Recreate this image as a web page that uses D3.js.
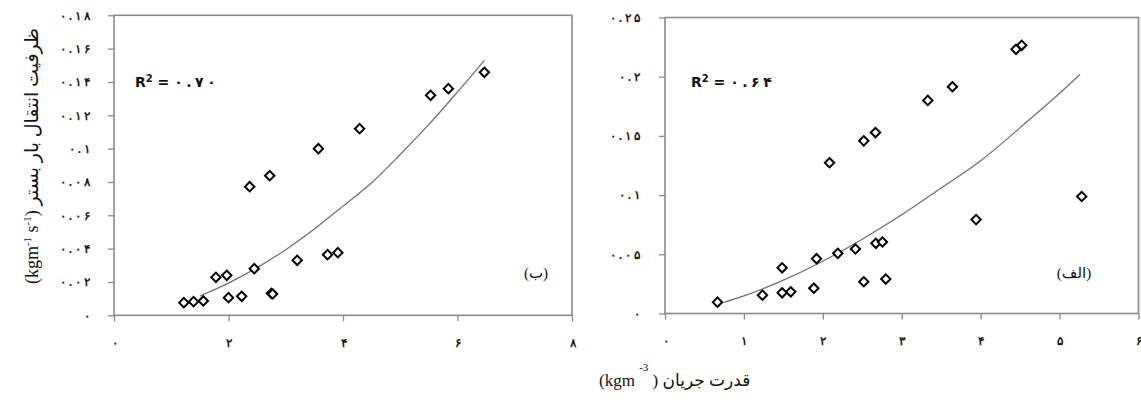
<!DOCTYPE html>
<html>
<head>
<meta charset="utf-8">
<script src="https://cdn.jsdelivr.net/npm/d3@7"></script>
<style>
body { margin: 0; background: #fff; }
</style>
</head>
<body>
<div id="chart"></div>
<script>
// panel (ب) - left
const powerB = [1.22, 1.39, 1.56, 1.78, 1.97, 2.0, 2.23, 2.45, 2.37, 2.72, 2.75, 2.77, 3.2, 3.57, 3.73, 3.91, 4.29, 5.53, 5.84, 6.47];
const loadB = [0.0076, 0.0082, 0.0086, 0.0228, 0.024, 0.0106, 0.0114, 0.028, 0.0772, 0.0838, 0.0132, 0.0128, 0.033, 0.100, 0.0364, 0.0376, 0.112, 0.132, 0.136, 0.1458];
const trendBx = [1.5, 2, 2.5, 3, 3.5, 4, 4.5, 5, 5.5, 6, 6.47];
const trendBy = [0.0116, 0.0193, 0.0286, 0.0394, 0.0518, 0.0655, 0.0795, 0.0965, 0.1145, 0.134, 0.153];
const xTicksB = [0, 2, 4, 6, 8];
const yTicksB = [0, 0.02, 0.04, 0.06, 0.08, 0.1, 0.12, 0.14, 0.16, 0.18];

// panel (الف) - right
const powerA = [0.665, 1.235, 1.484, 1.484, 1.594, 1.886, 1.92, 2.085, 2.19, 2.413, 2.519, 2.519, 2.667, 2.672, 2.755, 2.798, 3.33, 3.642, 3.942, 4.448, 4.52, 5.28];
const loadA = [0.0096, 0.0155, 0.0386, 0.0175, 0.0183, 0.0214, 0.0463, 0.1274, 0.0508, 0.0545, 0.1458, 0.0268, 0.1528, 0.0593, 0.0604, 0.0291, 0.180, 0.1915, 0.0793, 0.2231, 0.2265, 0.0988];
const trendAx = [0.74, 1, 1.5, 2, 2.5, 3, 3.5, 4, 4.5, 5, 5.26];
const trendAy = [0.0093, 0.0149, 0.0282, 0.0442, 0.0628, 0.0834, 0.106, 0.129, 0.157, 0.186, 0.2019];
const xTicksA = [0, 1, 2, 3, 4, 5, 6];
const yTicksA = [0, 0.05, 0.1, 0.15, 0.2, 0.25];

const panelNames = ["(ب)", "(الف)"];
const r2Values = ["0.70", "0.64"];
const yTitleFa = "ظرفیت انتقال بار بستر";
const xTitleFa = "قدرت جریان";

const width = 1141;
const height = 414;

const faDigits = "۰۱۲۳۴۵۶۷۸۹";
function toFa(s) {
    return String(s).replace(/\d/g, d => faDigits[d]);
}
// the original spaces its digits out widely
function spaced(s) {
    return s.split("").join("\u2005");
}
const fmt = d3.format(".2~f");

const svg = d3.select("#chart").append("svg")
    .attr("width", width)
    .attr("height", height)
    .style("font-family", "'DejaVu Sans', sans-serif");

function drawPanel(p) {
    const x = d3.scaleLinear().domain(p.xDomain).range(p.xRange);
    const y = d3.scaleLinear().domain(p.yDomain).range(p.yRange);

    const g = svg.append("g");

    // y axis ticks + labels
    const yAxis = g.append("g")
        .attr("transform", `translate(${p.xRange[0]},0)`)
        .call(d3.axisLeft(y).tickValues(p.yTicks).tickSize(6).tickSizeOuter(0)
            .tickPadding(p.yPad).tickFormat(d => spaced(toFa(fmt(d)))));
    // x axis ticks + labels
    const xAxis = g.append("g")
        .attr("transform", `translate(0,${p.yRange[0]})`)
        .call(d3.axisBottom(x).tickValues(p.xTicks).tickSize(6).tickSizeOuter(0)
            .tickPadding(17).tickFormat(d => toFa(d)));

    [yAxis, xAxis].forEach(a => {
        a.select(".domain").remove();
        a.selectAll(".tick line").attr("stroke", "#8a8a8a").attr("stroke-width", 1.3);
        a.selectAll(".tick text")
            .attr("fill", "#1a1a1a")
            .attr("font-size", 12)
            .attr("font-weight", "bold");
    });

    // frame
    g.append("rect")
        .attr("x", p.xRange[0])
        .attr("y", p.yRange[1])
        .attr("width", p.xRange[1] - p.xRange[0])
        .attr("height", p.yRange[0] - p.yRange[1])
        .attr("fill", "none")
        .attr("stroke", "#8a8a8a")
        .attr("stroke-width", 1.6);

    // trend line
    const line = d3.line()
        .x(d => x(d[0]))
        .y(d => y(d[1]))
        .curve(d3.curveMonotoneX);
    g.append("path")
        .datum(d3.zip(p.trendX, p.trendY))
        .attr("d", line)
        .attr("fill", "none")
        .attr("stroke", "#6e6e6e")
        .attr("stroke-width", 1.2);

    // diamonds
    const sym = d3.symbol().type(d3.symbolSquare).size(44);
    g.selectAll(".pt")
        .data(d3.zip(p.xs, p.ys))
        .enter().append("path")
        .attr("class", "pt")
        .attr("d", sym)
        .attr("transform", d => `translate(${x(d[0])},${y(d[1])}) rotate(45)`)
        .attr("fill", "#fff")
        .attr("stroke", "#000")
        .attr("stroke-width", 2);

    // R² label
    const r2 = g.append("text")
        .attr("x", p.r2x)
        .attr("y", 87)
        .attr("font-size", 14)
        .attr("font-weight", "bold")
        .attr("fill", "#111");
    r2.append("tspan").text("R");
    r2.append("tspan").attr("font-size", 10).attr("dy", -5).text("2");
    r2.append("tspan").attr("dy", 5).text(" = ");
    r2.append("tspan").text(spaced(toFa(p.r2)));

    // panel name
    g.append("text")
        .attr("x", p.nameX)
        .attr("y", 278)
        .attr("text-anchor", "middle")
        .attr("font-family", "'Liberation Serif', 'DejaVu Sans', serif")
        .attr("font-size", 15)
        .attr("fill", "#111")
        .text(p.name);
}

drawPanel({
    xDomain: [0, 8], yDomain: [0, 0.18],
    xRange: [114, 572], yRange: [315.3, 15.3],
    xTicks: xTicksB, yTicks: yTicksB, yPad: 18,
    xs: powerB, ys: loadB, trendX: trendBx, trendY: trendBy,
    r2: r2Values[0], r2x: 135, name: panelNames[0], nameX: 536
});

drawPanel({
    xDomain: [0, 6], yDomain: [0, 0.25],
    xRange: [665, 1138.5], yRange: [313.5, 17.5],
    xTicks: xTicksA, yTicks: yTicksA, yPad: 19,
    xs: powerA, ys: loadA, trendX: trendAx, trendY: trendAy,
    r2: r2Values[1], r2x: 691, name: panelNames[1], nameX: 1074
});

// y axis title
const yTitle = svg.append("text")
    .attr("transform", "translate(38,156) rotate(-90)")
    .attr("text-anchor", "middle")
    .attr("font-family", "'Liberation Serif', 'DejaVu Sans', serif")
    .attr("font-size", 18)
    .attr("fill", "#111");
yTitle.append("tspan").text("(kgm");
yTitle.append("tspan").attr("font-size", 11).attr("dy", -7).text("-1");
yTitle.append("tspan").attr("dy", 7).text("  s");
yTitle.append("tspan").attr("font-size", 11).attr("dy", -7).text("-1");
yTitle.append("tspan").attr("dy", 7).text(")");
yTitle.append("tspan").attr("font-size", 19).text(" " + yTitleFa);

// x axis title
const xTitle = svg.append("text")
    .attr("x", 599)
    .attr("y", 386)
    .attr("font-family", "'Liberation Serif', 'DejaVu Sans', serif")
    .attr("font-size", 17)
    .attr("fill", "#111");
xTitle.append("tspan").text("(kgm ");
xTitle.append("tspan").attr("font-size", 11).attr("dy", -15).text("-3");
xTitle.append("tspan").attr("dy", 15).text(" )");
xTitle.append("tspan").attr("font-size", 17).text(" " + xTitleFa);
</script>
</body>
</html>
